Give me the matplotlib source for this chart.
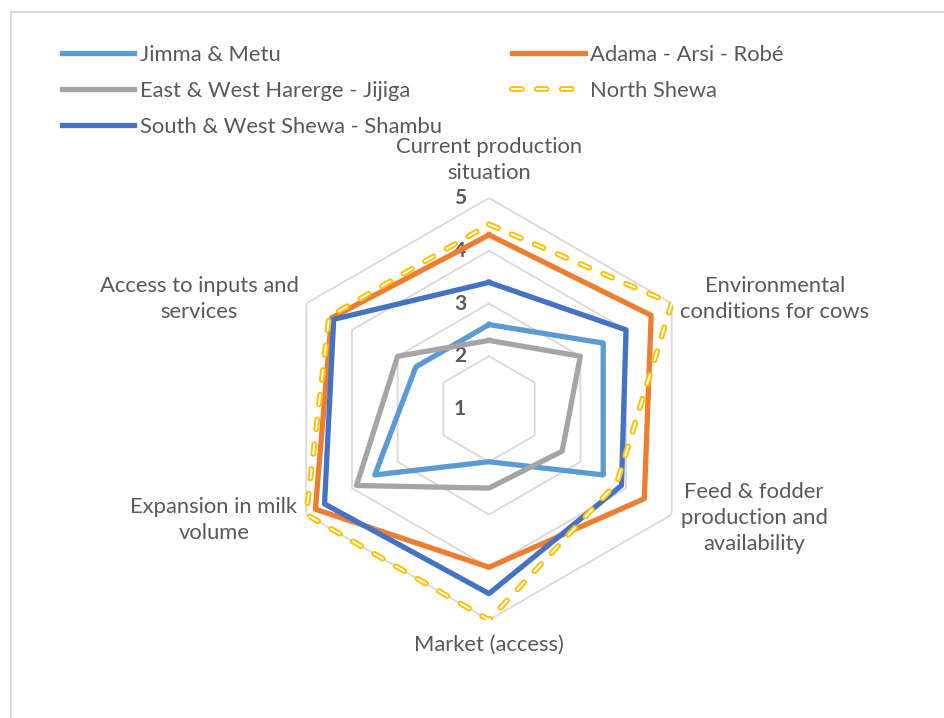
import numpy as np
import matplotlib.pyplot as plt
import matplotlib.patheffects as pe
from matplotlib.transforms import offset_copy

# axes of the radar, clockwise from the top
categories = ["Current production\nsituation",
              "Environmental\nconditions for cows",
              "Feed & fodder\nproduction and\navailability",
              "Market (access)",
              "Expansion in milk\nvolume",
              "Access to inputs and\nservices"]

jimma = [2.6, 3.5, 3.5, 2.0, 3.5, 2.6]
adama = [4.3, 4.55, 4.4, 4.0, 4.8, 4.45]
harerge = [2.3, 3.0, 2.6, 2.5, 3.9, 3.0]
north_shewa = [4.5, 5.0, 3.8, 5.0, 5.0, 4.5]
south_west = [3.4, 4.0, 3.9, 4.5, 4.6, 4.4]

ticks = [1, 2, 3, 4, 5]

W, H = 944, 718
fig = plt.figure(figsize=(W / 100, H / 100), dpi=100)
plt.rcParams['font.family'] = ['Lato', 'DejaVu Sans']
txt_col = '#595959'
fs = 15.8

# chart frame
fig.patches.append(plt.Rectangle((11 / W, -0.1), 1.2, 1 - 12 / H + 0.1, transform=fig.transFigure,
                                 fill=False, edgecolor='#D9D9D9', linewidth=1.5))

cx, cy, rad = 489, 409, 211
ax = fig.add_axes([(cx - rad) / W, (H - cy - rad) / H, 2 * rad / W, 2 * rad / H], projection='polar')
ax.set_theta_offset(np.pi / 2)
ax.set_theta_direction(-1)
ax.set_ylim(1, 5)
ax.grid(False)
ax.spines['polar'].set_visible(False)
ax.set_xticks([])
ax.set_yticks([])
ax.patch.set_alpha(0)

n = len(categories)
theta = np.linspace(0, 2 * np.pi, n, endpoint=False)
theta_c = np.append(theta, theta[0])

# hexagonal gridlines
for t in ticks[1:]:
    ax.plot(theta_c, [t] * (n + 1), color='#D9D9D9', linewidth=1.3, zorder=1)

# tick labels along the top axis
lab_tr = offset_copy(ax.transData, fig=fig, x=-29, y=0, units='dots')
for t in ticks:
    ax.text(0, t, str(t), transform=lab_tr, ha='center', va='center',
            fontsize=15, fontweight='bold', color=txt_col)


def closed(v):
    return list(v) + [v[0]]


lw = 3.8
ax.plot(theta_c, closed(jimma), color='#5B9BD5', linewidth=lw, label='Jimma & Metu', zorder=3)
ax.plot(theta_c, closed(adama), color='#ED7D31', linewidth=lw, label='Adama - Arsi - Robé', zorder=3)
ax.plot(theta_c, closed(harerge), color='#A5A5A5', linewidth=lw, label='East & West Harerge - Jijiga', zorder=3)
ax.plot(theta_c, closed(north_shewa), color='white', linewidth=1.4, linestyle=(0, (5.0, 7.8)),
        dash_capstyle='round', label='North Shewa', zorder=4,
        path_effects=[pe.Stroke(linewidth=4.2, foreground='#FFC000'), pe.Normal()])
ax.plot(theta_c, closed(south_west), color='#4472C4', linewidth=lw, label='South & West Shewa - Shambu', zorder=3)

# category labels
label_pos = [(489, 160), (775, 299), (754, 518), (489, 645), (214, 520), (199, 299)]
for name, (x, y) in zip(categories, label_pos):
    fig.text(x / W, 1 - y / H, name, ha='center', va='center', fontsize=fs,
             color=txt_col, linespacing=1.4)

handles, labels = ax.get_legend_handles_labels()
order = [0, 2, 4, 1, 3]
leg = fig.legend([handles[i] for i in order], [labels[i] for i in order],
                 loc='upper left', bbox_to_anchor=(62 / W, 1 - 45 / H), ncol=2,
                 frameon=False, fontsize=fs, handlelength=3.3, handletextpad=0.25,
                 labelspacing=0.72, columnspacing=3.2, borderaxespad=0, borderpad=0)
for t in leg.get_texts():
    t.set_color(txt_col)

fig.savefig('out.png', dpi=100, facecolor='white')
